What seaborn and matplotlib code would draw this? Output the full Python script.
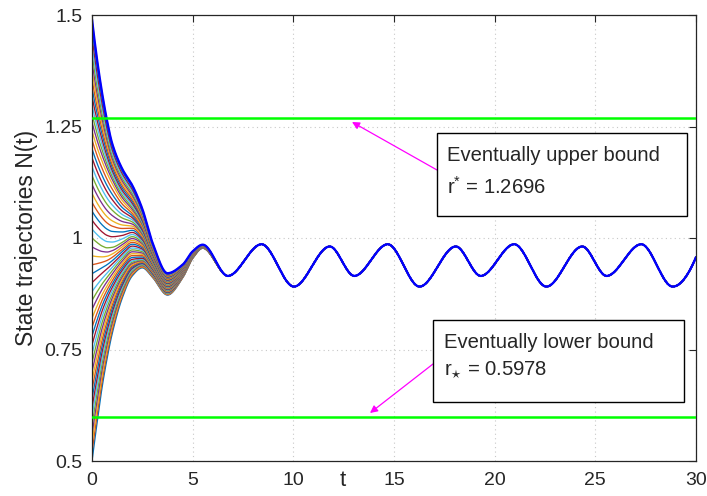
import numpy as np
import pandas as pd
import matplotlib
matplotlib.use("Agg")
import matplotlib.pyplot as plt
import seaborn as sns
from matplotlib.patches import Rectangle

# ---------------- data ----------------
# initial values of the plotted trajectories (0.5 ... 1.5)
INIT_VALUES = [round(0.5 + 0.02 * k, 2) for k in range(51)]

# reference trajectories, by initial value
REF_INIT = [0.5, 0.75, 1.0, 1.25, 1.5]
T_TRANSIENT = [0.0, 0.25, 0.5, 0.75, 1.0, 1.5, 2.0, 2.5, 3.0, 3.75, 4.5, 5.0, 5.5]
TRAJ_050 = [0.500, 0.585, 0.665, 0.730, 0.785, 0.865, 0.915, 0.933, 0.912, 0.872, 0.910, 0.954, 0.977]
TRAJ_075 = [0.750, 0.792, 0.830, 0.860, 0.885, 0.925, 0.950, 0.953, 0.930, 0.884, 0.918, 0.960, 0.979]
TRAJ_100 = [1.000, 0.990, 0.982, 0.978, 0.979, 0.990, 1.003, 0.990, 0.948, 0.896, 0.926, 0.964, 0.981]
TRAJ_125 = [1.250, 1.212, 1.180, 1.152, 1.128, 1.088, 1.062, 1.028, 0.970, 0.909, 0.933, 0.966, 0.983]
TRAJ_150 = [1.490, 1.400, 1.325, 1.262, 1.212, 1.155, 1.118, 1.065, 0.990, 0.921, 0.940, 0.970, 0.985]

# common periodic regime (extrema)
T_COMMON = [6.75, 8.42, 10.03, 11.81, 13.03, 14.69, 16.27, 18.07, 19.31,
            20.97, 22.57, 24.35, 25.56, 27.28, 28.84, 30.0]
N_COMMON = [0.915, 0.986, 0.891, 0.981, 0.915, 0.986, 0.891, 0.981, 0.915,
            0.986, 0.891, 0.981, 0.915, 0.986, 0.891, 0.957]

UPPER_BOUND = 1.2696
LOWER_BOUND = 0.5978

X_TICKS = [0, 5, 10, 15, 20, 25, 30]
Y_TICKS = [0.5, 0.75, 1.0, 1.25, 1.5]
Y_TICKLABELS = ["0.5", "0.75", "1", "1.25", "1.5"]

MATLAB_COLORS = [(0.000, 0.447, 0.741), (0.850, 0.325, 0.098), (0.929, 0.694, 0.125),
                 (0.494, 0.184, 0.556), (0.466, 0.674, 0.188), (0.301, 0.745, 0.933),
                 (0.635, 0.078, 0.184)]


# ---------------- helpers ----------------
def pchip(x, y, xn):
    x = np.asarray(x, float); y = np.asarray(y, float); xn = np.asarray(xn, float)
    h = np.diff(x); d = np.diff(y) / h
    n = len(x); m = np.zeros(n)
    for k in range(1, n - 1):
        if d[k - 1] * d[k] > 0:
            w1 = 2 * h[k] + h[k - 1]; w2 = h[k] + 2 * h[k - 1]
            m[k] = (w1 + w2) / (w1 / d[k - 1] + w2 / d[k])

    def endslope(h0, h1, d0, d1):
        s = ((2 * h0 + h1) * d0 - h0 * d1) / (h0 + h1)
        if np.sign(s) != np.sign(d0):
            s = 0.0
        elif np.sign(d0) != np.sign(d1) and abs(s) > 3 * abs(d0):
            s = 3 * d0
        return s
    m[0] = endslope(h[0], h[1], d[0], d[1])
    m[-1] = endslope(h[-1], h[-2], d[-1], d[-2])
    idx = np.clip(np.searchsorted(x, xn) - 1, 0, n - 2)
    s = (xn - x[idx]) / h[idx]
    hh = h[idx]
    h00 = 2 * s**3 - 3 * s**2 + 1
    h10 = s**3 - 2 * s**2 + s
    h01 = -2 * s**3 + 3 * s**2
    h11 = s**3 - s**2
    return h00 * y[idx] + h10 * hh * m[idx] + h01 * y[idx + 1] + h11 * hh * m[idx + 1]


REF = np.array([TRAJ_050, TRAJ_075, TRAJ_100, TRAJ_125, TRAJ_150])
t_knots = np.array(T_TRANSIENT + T_COMMON)
t_dense = np.linspace(0, 30, 1801)

rows = []
for i, c in enumerate(INIT_VALUES):
    tr = [np.interp(c, REF_INIT, REF[:, k]) for k in range(len(T_TRANSIENT))]
    vals = np.array(tr + N_COMMON)
    rows.append(pd.DataFrame({"t": t_dense, "N": pchip(t_knots, vals, t_dense), "curve": i}))
df = pd.concat(rows, ignore_index=True)
top_df = df[df["curve"] == len(INIT_VALUES) - 1]
palette = {i: MATLAB_COLORS[i % 7] for i in range(len(INIT_VALUES))}

# ---------------- figure ----------------
sns.set_style("white")
plt.rcParams["font.family"] = ["Liberation Sans", "DejaVu Sans"]
plt.rcParams["mathtext.fontset"] = "custom"
plt.rcParams["mathtext.rm"] = "Liberation Sans"
plt.rcParams["mathtext.it"] = "Liberation Sans:italic"

W, H = 707, 496
fig = plt.figure(figsize=(W / 100, H / 100), dpi=100)
ax = fig.add_axes([92 / W, 1 - 461 / H, (696 - 92) / W, (461 - 15) / H])

sns.lineplot(data=df, x="t", y="N", hue="curve", palette=palette, legend=False,
             linewidth=0.95, estimator=None, sort=False, ax=ax)
sns.lineplot(data=top_df, x="t", y="N", color=(0, 0, 1), linewidth=1.7,
             estimator=None, sort=False, ax=ax)

ax.axhline(UPPER_BOUND, color=(0, 1, 0), lw=1.8, zorder=5)
ax.axhline(LOWER_BOUND, color=(0, 1, 0), lw=1.8, zorder=5)

ax.set_xlim(0, 30)
ax.set_ylim(0.5, 1.5)
ax.set_xticks(X_TICKS)
ax.set_xticklabels([str(v) for v in X_TICKS])
ax.set_yticks(Y_TICKS)
ax.set_yticklabels(Y_TICKLABELS)
ax.tick_params(direction="in", length=5, width=0.8, colors="#262626", labelsize=14,
               top=True, right=True, pad=7)
ax.tick_params(axis="x", pad=8)
for sp in ax.spines.values():
    sp.set_color("#262626"); sp.set_linewidth(0.9); sp.set_visible(True)
ax.grid(True, linestyle=(0, (1, 3)), color="#c8c8c8", linewidth=0.8)
ax.set_axisbelow(True)

ax.set_ylabel("State trajectories N(t)", fontsize=16.5, color="#262626")
ax.yaxis.set_label_coords(-54 / 604, (461 - 238) / 446)
ax.set_xlabel("t", fontsize=16, color="#262626")
ax.xaxis.set_label_coords(12.47 / 30, -0.043)
ax.xaxis.label.set_va("center")


def px(x, y):
    return (x / W, 1 - y / H)


# annotation boxes
for (x0, y0, x1, y1) in [(437, 133, 687, 216), (433, 320, 684, 402)]:
    fig.patches.append(Rectangle(px(x0, y1), (x1 - x0) / W, (y1 - y0) / H,
                                 transform=fig.transFigure, fill=True, facecolor="white",
                                 edgecolor="black", lw=1.0, zorder=10))

FS = 14.6
fig.text(*px(447, 161), "Eventually upper bound", fontsize=FS, va="baseline", zorder=11)
fig.text(*px(447, 194), r"$\mathregular{r^{*}}$ = 1.2696", fontsize=FS, va="baseline", zorder=11)
fig.text(*px(444, 348), "Eventually lower bound", fontsize=FS, va="baseline", zorder=11)
fig.text(*px(444, 375), r"$\mathregular{r_{\star}}$ = 0.5978", fontsize=FS, va="baseline", zorder=11)

for tail, head in [((437, 170), (352, 122)), ((433, 364), (370, 413))]:
    fig.add_artist(matplotlib.patches.FancyArrowPatch(
        px(*tail), px(*head), transform=fig.transFigure, arrowstyle="-|>",
        mutation_scale=11, color=(1, 0, 1), lw=0.9, shrinkA=0, shrinkB=0, zorder=9))

fig.savefig("out.png", dpi=100)
